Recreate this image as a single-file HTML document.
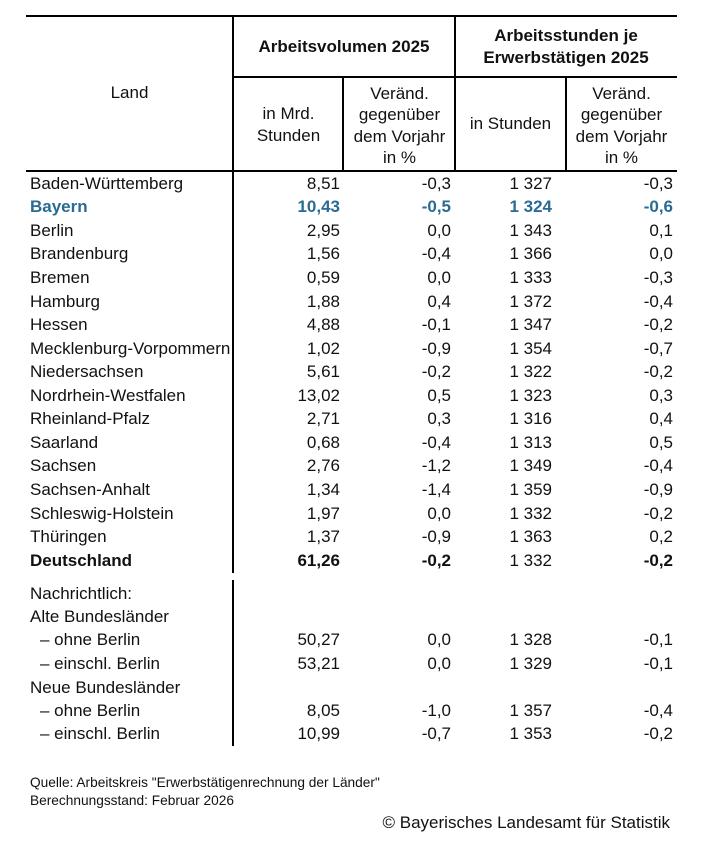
<!DOCTYPE html>
<html><head><meta charset="utf-8"><style>
*{margin:0;padding:0;box-sizing:border-box}
html,body{width:701px;height:845px;background:#fff;overflow:hidden}
body{position:relative;font-family:"Liberation Sans",Arial,sans-serif;font-size:17px;color:#111}
.l{position:absolute;background:#000}
.h{position:absolute;text-align:center;white-space:nowrap}
.r{position:absolute;left:0;width:701px;height:23.55px;line-height:23.55px;white-space:nowrap}
.r span{position:absolute;top:0}
.n{left:30px}
.i{left:40px}
.c1{right:361px}
.c2{right:250px}
.c3{right:149px}
.c4{right:28px}
.b{font-weight:bold}
.bl{color:#2a6b93;font-weight:bold}
.f{position:absolute;left:30px;font-size:13.7px;line-height:18px;white-space:nowrap}
</style></head><body>
<!-- lines -->
<div class="l" style="left:26px;top:15px;width:651px;height:2px"></div>
<div class="l" style="left:233px;top:76px;width:444px;height:2px"></div>
<div class="l" style="left:26px;top:170px;width:651px;height:2px"></div>
<div class="l" style="left:232px;top:15px;width:2px;height:558px"></div>
<div class="l" style="left:232px;top:580px;width:2px;height:166px"></div>
<div class="l" style="left:342px;top:77px;width:2px;height:95px"></div>
<div class="l" style="left:454px;top:15px;width:2px;height:157px"></div>
<div class="l" style="left:565px;top:77px;width:2px;height:95px"></div>

<!-- header -->
<div class="h" style="left:26px;width:207px;top:83.1px;line-height:20px">Land</div>
<div class="h b" style="left:233px;width:222px;top:36.8px;line-height:20px">Arbeitsvolumen 2025</div>
<div class="h b" style="left:455px;width:222px;top:25px;line-height:21.6px">Arbeitsstunden je<br>Erwerbstätigen 2025</div>
<div class="h" style="left:233px;width:111px;top:103.3px;line-height:21.7px">in Mrd.<br>Stunden</div>
<div class="h" style="left:344px;width:111px;top:82.7px;line-height:21.4px">Veränd.<br>gegenüber<br>dem Vorjahr<br>in %</div>
<div class="h" style="left:455px;width:111px;top:114.1px;line-height:20px">in Stunden</div>
<div class="h" style="left:566px;width:111px;top:82.7px;line-height:21.4px">Veränd.<br>gegenüber<br>dem Vorjahr<br>in %</div>

<!-- data rows -->
<div class="r" style="top:171.8px"><span class="n">Baden-Württemberg</span><span class="c1">8,51</span><span class="c2">-0,3</span><span class="c3">1 327</span><span class="c4">-0,3</span></div>
<div class="r bl" style="top:195.35px"><span class="n">Bayern</span><span class="c1">10,43</span><span class="c2">-0,5</span><span class="c3">1 324</span><span class="c4">-0,6</span></div>
<div class="r" style="top:218.9px"><span class="n">Berlin</span><span class="c1">2,95</span><span class="c2">0,0</span><span class="c3">1 343</span><span class="c4">0,1</span></div>
<div class="r" style="top:242.45px"><span class="n">Brandenburg</span><span class="c1">1,56</span><span class="c2">-0,4</span><span class="c3">1 366</span><span class="c4">0,0</span></div>
<div class="r" style="top:266px"><span class="n">Bremen</span><span class="c1">0,59</span><span class="c2">0,0</span><span class="c3">1 333</span><span class="c4">-0,3</span></div>
<div class="r" style="top:289.55px"><span class="n">Hamburg</span><span class="c1">1,88</span><span class="c2">0,4</span><span class="c3">1 372</span><span class="c4">-0,4</span></div>
<div class="r" style="top:313.1px"><span class="n">Hessen</span><span class="c1">4,88</span><span class="c2">-0,1</span><span class="c3">1 347</span><span class="c4">-0,2</span></div>
<div class="r" style="top:336.65px"><span class="n" style="width:202px;overflow:hidden">Mecklenburg-Vorpommern</span><span class="c1">1,02</span><span class="c2">-0,9</span><span class="c3">1 354</span><span class="c4">-0,7</span></div>
<div class="r" style="top:360.2px"><span class="n">Niedersachsen</span><span class="c1">5,61</span><span class="c2">-0,2</span><span class="c3">1 322</span><span class="c4">-0,2</span></div>
<div class="r" style="top:383.75px"><span class="n">Nordrhein-Westfalen</span><span class="c1">13,02</span><span class="c2">0,5</span><span class="c3">1 323</span><span class="c4">0,3</span></div>
<div class="r" style="top:407.3px"><span class="n">Rheinland-Pfalz</span><span class="c1">2,71</span><span class="c2">0,3</span><span class="c3">1 316</span><span class="c4">0,4</span></div>
<div class="r" style="top:430.85px"><span class="n">Saarland</span><span class="c1">0,68</span><span class="c2">-0,4</span><span class="c3">1 313</span><span class="c4">0,5</span></div>
<div class="r" style="top:454.4px"><span class="n">Sachsen</span><span class="c1">2,76</span><span class="c2">-1,2</span><span class="c3">1 349</span><span class="c4">-0,4</span></div>
<div class="r" style="top:477.95px"><span class="n">Sachsen-Anhalt</span><span class="c1">1,34</span><span class="c2">-1,4</span><span class="c3">1 359</span><span class="c4">-0,9</span></div>
<div class="r" style="top:501.5px"><span class="n">Schleswig-Holstein</span><span class="c1">1,97</span><span class="c2">0,0</span><span class="c3">1 332</span><span class="c4">-0,2</span></div>
<div class="r" style="top:525.05px"><span class="n">Thüringen</span><span class="c1">1,37</span><span class="c2">-0,9</span><span class="c3">1 363</span><span class="c4">0,2</span></div>
<div class="r" style="top:548.6px"><span class="n b">Deutschland</span><span class="c1 b">61,26</span><span class="c2 b">-0,2</span><span class="c3">1 332</span><span class="c4 b">-0,2</span></div>

<div class="r" style="top:581.6px"><span class="n">Nachrichtlich:</span></div>
<div class="r" style="top:605px"><span class="n">Alte Bundesländer</span></div>
<div class="r" style="top:628.4px"><span class="i">– ohne Berlin</span><span class="c1">50,27</span><span class="c2">0,0</span><span class="c3">1 328</span><span class="c4">-0,1</span></div>
<div class="r" style="top:652px"><span class="i">– einschl. Berlin</span><span class="c1">53,21</span><span class="c2">0,0</span><span class="c3">1 329</span><span class="c4">-0,1</span></div>
<div class="r" style="top:675.6px"><span class="n">Neue Bundesländer</span></div>
<div class="r" style="top:699.4px"><span class="i">– ohne Berlin</span><span class="c1">8,05</span><span class="c2">-1,0</span><span class="c3">1 357</span><span class="c4">-0,4</span></div>
<div class="r" style="top:722.4px"><span class="i">– einschl. Berlin</span><span class="c1">10,99</span><span class="c2">-0,7</span><span class="c3">1 353</span><span class="c4">-0,2</span></div>

<!-- footer -->
<div class="f" style="top:773.5px">Quelle: Arbeitskreis "Erwerbstätigenrechnung der Länder"</div>
<div class="f" style="top:792.3px">Berechnungsstand: Februar 2026</div>
<div style="position:absolute;right:31px;top:813.4px;line-height:20px;white-space:nowrap">© Bayerisches Landesamt für Statistik</div>
</body></html>
